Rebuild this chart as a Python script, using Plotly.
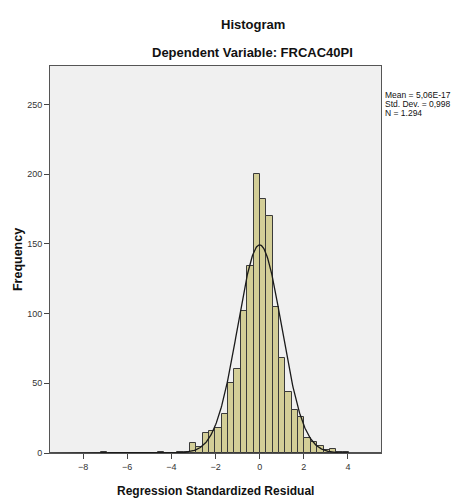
import numpy as np
import plotly.graph_objects as go

# ---- data ----
bin_width = 0.2885
first_edge = -3.16
main_counts = [7, 4, 14, 16, 18, 28, 50, 60, 102, 134, 200, 182, 170, 105,
               68, 44, 31, 26, 11, 8, 5, 2, 3, 1, 1]
outlier_bin_offsets = [-14, -5, -2, -1]   # bins left of first_edge
outlier_counts = [1, 1, 1, 1]

stat_mean = 5.06e-17
stat_sd = 0.998
stat_n = 1294
stat_labels = ["Mean = 5,06E-17", "Std. Dev. = 0,998", "N = 1.294"]

x_ticks = [-8, -6, -4, -2, 0, 2, 4]
y_ticks = [0, 50, 100, 150, 200, 250]

# ---- build bars ----
centers = [first_edge + (i + 0.5) * bin_width for i in range(len(main_counts))]
centers += [first_edge + (k + 0.5) * bin_width for k in outlier_bin_offsets]
counts = main_counts + outlier_counts

fig = go.Figure()
fig.add_trace(go.Bar(
    x=centers, y=counts, width=bin_width,
    marker=dict(color="#D3CE97", line=dict(color="#3a3a3a", width=1)),
    showlegend=False,
))

# fitted normal curve from the reported statistics
xc = np.linspace(-9.5, 5.5, 600)
yc = stat_n * bin_width * np.exp(-0.5 * ((xc - stat_mean) / stat_sd) ** 2) / (stat_sd * np.sqrt(2 * np.pi))
fig.add_trace(go.Scatter(x=xc, y=yc, mode="lines",
                         line=dict(color="#1a1a1a", width=1.3), showlegend=False))

font = "Liberation Sans, Arial, sans-serif"
ann = [
    dict(text="<b>Histogram</b>", x=0.613, y=1.1085, font=dict(size=13)),
    dict(text="<b>Dependent Variable: FRCAC40PI</b>", x=0.613, y=1.036, font=dict(size=13)),
    dict(text="<b>Regression Standardized Residual</b>", x=0.5, y=-0.098, font=dict(size=12)),
    dict(text="<b>Frequency</b>", x=-0.098, y=0.5, textangle=-90, font=dict(size=12.5)),
]
for i, s in enumerate(stat_labels):
    ann.append(dict(text=s, x=1.006, y=0.926 - i * 0.0235, xanchor="left",
                    font=dict(size=8.5)))
annotations = []
for a in ann:
    d = dict(xref="paper", yref="paper", showarrow=False, yanchor="middle")
    d.setdefault("xanchor", "center")
    d.update(a)
    d["font"] = dict(family=font, color="#111111", **a["font"])
    annotations.append(d)

fig.update_layout(
    width=456, height=498,
    margin=dict(l=50, r=75, t=66, b=45),
    paper_bgcolor="white", plot_bgcolor="#F0F0F0",
    bargap=0, barmode="overlay",
    font=dict(family=font, size=9, color="#333333"),
    annotations=annotations,
    xaxis=dict(range=[-9.5, 5.5], tickmode="array", tickvals=x_ticks,
               ticks="outside", ticklen=5, tickcolor="#444444",
               showgrid=False, zeroline=False,
               showline=True, linecolor="#555555", linewidth=1, mirror=True,
               tickfont=dict(size=9, color="#333333")),
    yaxis=dict(range=[0, 277.5], tickmode="array", tickvals=y_ticks,
               ticks="outside", ticklen=5, tickcolor="#444444",
               showgrid=False, zeroline=False,
               showline=True, linecolor="#555555", linewidth=1, mirror=True,
               tickfont=dict(size=9, color="#333333")),
)

fig.write_html("out.html")
